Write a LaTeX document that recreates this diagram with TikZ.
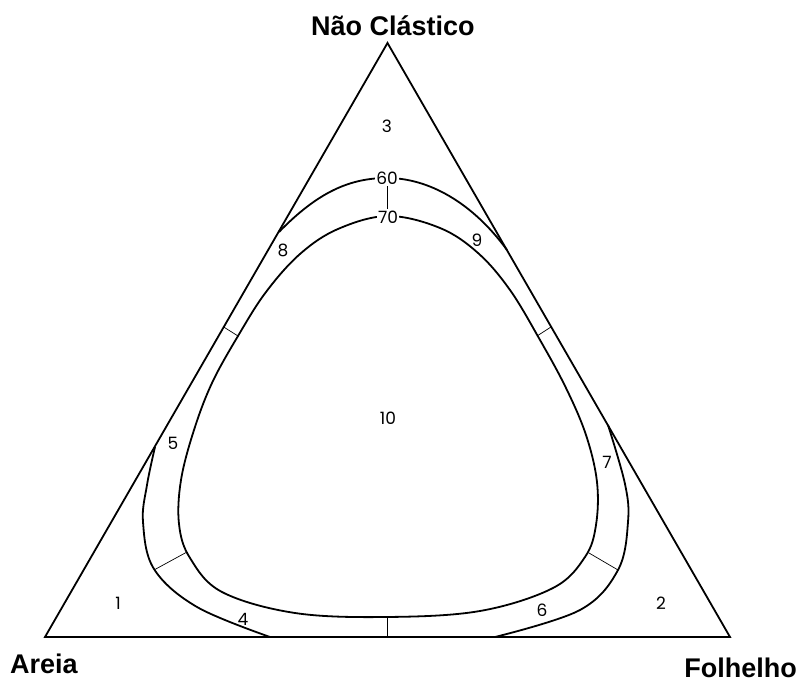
\documentclass[tikz,border=0pt]{standalone}
\usepackage{fontspec}
\setmainfont{Liberation Sans}
\newfontfamily\numfont{Poppins}
\begin{document}
\begin{tikzpicture}[x=1pt,y=-1pt,
  edge/.style={line width=1.8pt,line join=miter},
  curve/.style={line width=1.8pt},
  tick/.style={line width=0.7pt},
  num/.style={font=\numfont\fontsize{17}{17}\selectfont,inner sep=1pt},
  numw/.style={num,fill=white,inner sep=1.5pt},
  corner/.style={font=\bfseries\fontsize{27}{27}\selectfont,inner sep=0pt}]
\useasboundingbox (0,0) rectangle (804,684);
% triangle
\coordinate (A) at (45,637);
\coordinate (B) at (730,637);
\coordinate (C) at (387.5,43);
\draw[edge] (A) -- (B) -- (C) -- cycle;
% inner curve (70)
\draw[curve] plot[smooth cycle, tension=0.6] coordinates {
 (388,216) (440,228) (478,253) (510,290) (540,340) (566,388) (586,435)
 (597,482) (596,525) (585,557) (553,588) (480,611) (387,617) (295,613)
 (222,592) (190,558) (179,524) (181,480) (194,430) (212,383) (238,336)
 (266,292) (300,254) (338,229)};
% outer curve (60) top
\coordinate (ot1) at (279,232);
\coordinate (ot2) at (387,178);
\coordinate (ot3) at (507,250);
\draw[curve] (ot1) .. controls (318,192) and (350,178) .. (ot2)
  .. controls (428,178) and (472,202) .. (ot3);
% outer lower left
\draw[curve] plot[smooth, tension=0.6] coordinates {
 (155,447) (147,485) (143,522) (154,569) (197,607) (270,637)};
% outer lower right
\draw[curve] plot[smooth, tension=0.6] coordinates {
 (495,637) (580,610) (618,570) (628,522) (625,484) (608,425)};
% ticks
\coordinate (t1a) at (387,180); \coordinate (t1b) at (387,214);
\draw[tick] (t1a) -- (t1b);
\coordinate (t2a) at (223.7,327); \coordinate (t2b) at (238,336);
\draw[tick] (t2a) -- (t2b);
\coordinate (t3a) at (551,327); \coordinate (t3b) at (537,336);
\draw[tick] (t3a) -- (t3b);
\coordinate (t4a) at (154,570); \coordinate (t4b) at (187,552);
\draw[tick] (t4a) -- (t4b);
\coordinate (t5a) at (589,553); \coordinate (t5b) at (618,570);
\draw[tick] (t5a) -- (t5b);
\coordinate (t6a) at (387,617); \coordinate (t6b) at (387,637);
\draw[tick] (t6a) -- (t6b);
% labels
\node[numw] (l60) at (387,178) {60};
\node[numw] (l70) at (388,217) {70};
\node[num] (n1) at (118,603) {1};
\node[num] (n2) at (661,603) {2};
\node[num] (n3) at (387,126) {3};
\node[num] (n4) at (243,619) {4};
\node[num] (n5) at (173,443) {5};
\node[num] (n6) at (542,610) {6};
\node[num] (n7) at (607,462) {7};
\node[num] (n8) at (283,250) {8};
\node[num] (n9) at (477,240) {9};
\node[num] (n10) at (388,418) {10};
\node[corner,anchor=base] (title) at (393,36) {Não Clástico};
\node[corner,anchor=base west] (areia) at (10,673) {Areia};
\node[corner,anchor=base east] (folh) at (797,677) {Folhelho};
\end{tikzpicture}
\end{document}
